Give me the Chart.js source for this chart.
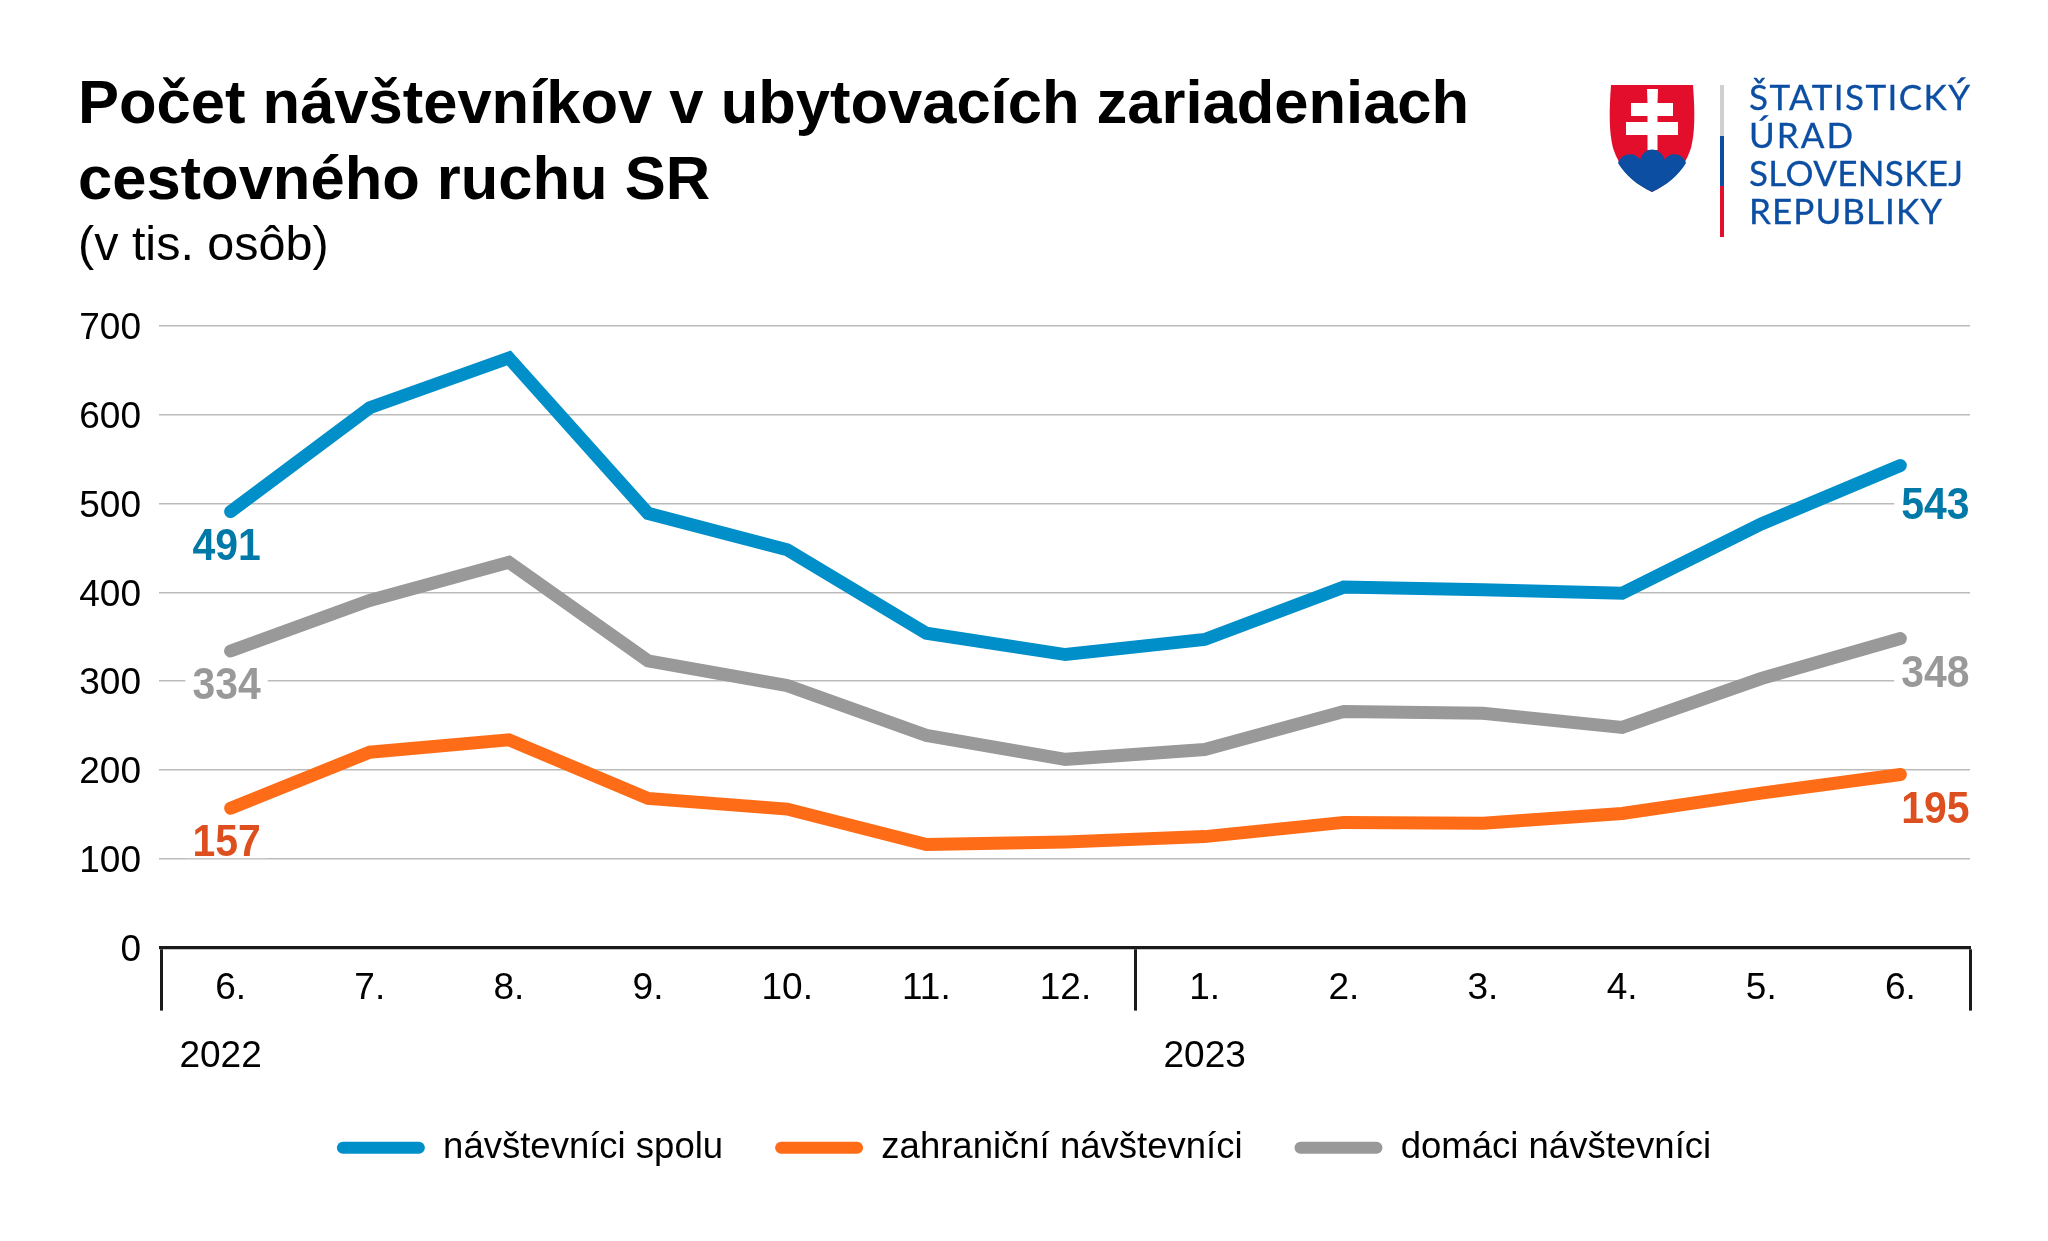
<!DOCTYPE html>
<html lang="sk">
<head>
<meta charset="utf-8">
<title>Počet návštevníkov</title>
<script src="https://cdn.jsdelivr.net/npm/chart.js@4"></script>
<style>
    html, body { margin: 0; background: #fff; }
    #wrap { position: relative; width: 2048px; height: 1241px; overflow: hidden; }
    #logo { position: absolute; left: 0; top: 0; }
    #logo text { font-family: Lato, sans-serif; font-size: 35px; fill: #0b4ea2; stroke: #0b4ea2; stroke-width: 0.3px; }
</style>
</head>
<body>
<div id="wrap">
    <canvas id="chart" width="2048" height="1241"></canvas>
    <!-- Logo of the statistical office -->
    <svg id="logo" width="2048" height="300" viewBox="0 0 2048 300">
        <path d="M1611 85H1693C1695 112 1695 132 1691 148C1684 170 1670 183 1652 192C1634 183 1620 170 1613 148C1609 132 1609 112 1611 85Z" fill="#e30d2c"/>
        <path d="M1647 89H1658L1657.500 103H1673V116H1657.500V122H1678V135H1657.500V150H1647.500V135H1626V122H1647.500V116H1631V103H1647.500Z" fill="#fff"/>
        <path d="M1618 163C1622 152 1636 152 1640 160C1644 146 1660 146 1665 160C1669 152 1682 152 1686 163C1678 176 1667 185 1652 192C1637 185 1626 176 1618 163Z" fill="#0b4ea2"/>
        <rect x="1720" y="85" width="4" height="51" fill="#ced0d1"/>
        <rect x="1720" y="136" width="4" height="50" fill="#0b4ea2"/>
        <rect x="1720" y="186" width="4" height="51" fill="#e30d2c"/>
        <text x="1749" y="110" textLength="221">ŠTATISTICKÝ</text>
        <text x="1749" y="148" textLength="104">ÚRAD</text>
        <text x="1749" y="186" textLength="214">SLOVENSKEJ</text>
        <text x="1749" y="224" textLength="193">REPUBLIKY</text>
    </svg>
</div>
<script>
// Chart data
const months = ['6.', '7.', '8.', '9.', '10.', '11.', '12.', '1.', '2.', '3.', '4.', '5.', '6.'];
const years = ['2022', '2023'];
const yearStartIndex = [0, 7];
const totalVisitors = [491, 608, 664, 489, 448, 354, 330, 347, 406, 403, 399, 477, 543];
const foreignVisitors = [157, 220, 234, 168, 156, 116, 119, 125, 141, 140, 151, 174, 195];
const domesticVisitors = [334, 391, 434, 323, 295, 239, 212, 223, 266, 264, 248, 303, 348];
const yTicks = [0, 100, 200, 300, 400, 500, 600, 700];

const FONT = '"Liberation Sans", Arial, sans-serif';

// Values at both ends of each line, white box behind so gridlines stop at the text
const endLabelsPlugin = {
    id: 'endLabels',
    afterDatasetsDraw(chart) {
        const ctx = chart.ctx;
        ctx.save();
        ctx.font = `bold 44px ${FONT}`;
        ctx.textAlign = 'center';
        ctx.textBaseline = 'middle';
        chart.data.datasets.forEach((ds, i) => {
            const pts = chart.getDatasetMeta(i).data;
            const last = pts.length - 1;
            [[0, -4], [last, 35]].forEach(([idx, dx]) => {
                const x = pts[idx].x + dx;
                const y = pts[idx].y + 35 + (ds.labelDrop || 0) * (idx === last ? 1 : 0);
                const text = String(ds.data[idx]);
                const w = ctx.measureText(text).width * 0.93;
                ctx.fillStyle = '#fff';
                ctx.fillRect(x - w / 2 - 7, y - 15, w + 14, 30);
                // the digits in the original are a bit narrow
                ctx.save();
                ctx.translate(x, y + 1);
                ctx.scale(0.93, 1);
                ctx.fillStyle = ds.labelColor;
                ctx.fillText(text, 0, 0);
                ctx.restore();
            });
        });
        ctx.restore();
    }
};

// Second row of the x axis: the year under its first month
const yearLabelsPlugin = {
    id: 'yearLabels',
    afterDraw(chart) {
        const ctx = chart.ctx;
        const xScale = chart.scales.x;
        ctx.save();
        ctx.font = `37px ${FONT}`;
        ctx.fillStyle = '#000';
        ctx.textAlign = 'center';
        ctx.textBaseline = 'middle';
        years.forEach((year, i) => {
            const nudge = i === 0 ? -10 : 0;
            ctx.fillText(year, xScale.getPixelForTick(yearStartIndex[i]) + nudge, 1057);
        });
        ctx.restore();
    }
};

function lineDataset(label, data, color, labelColor, labelDrop) {
    return {
        label, data, labelColor, labelDrop,
        borderColor: color,
        backgroundColor: color,
        borderWidth: 13,
        borderCapStyle: 'round',
        borderJoinStyle: 'miter',
        tension: 0,
        pointRadius: 0
    };
}

new Chart(document.getElementById('chart'), {
    type: 'line',
    data: {
        labels: months,
        datasets: [
            lineDataset('návštevníci spolu', totalVisitors, '#008fc8', '#0079a8', 5),
            lineDataset('zahraniční návštevníci', foreignVisitors, '#ff6c17', '#dd4f1e', 0),
            lineDataset('domáci návštevníci', domesticVisitors, '#999999', '#999999', 0)
        ]
    },
    plugins: [endLabelsPlugin, yearLabelsPlugin],
    options: {
        responsive: false,
        animation: false,
        events: [],
        layout: { padding: { top: 68, left: 78, right: 78, bottom: 65 } },
        plugins: {
            tooltip: { enabled: false },
            title: {
                display: true,
                align: 'start',
                text: ['Počet návštevníkov v ubytovacích zariadeniach', 'cestovného ruchu SR'],
                color: '#000',
                font: { family: FONT, size: 61.5, weight: 'bold', lineHeight: 76 / 61.5 },
                padding: 0
            },
            subtitle: {
                display: true,
                align: 'start',
                text: '(v tis. osôb)',
                color: '#000',
                font: { family: FONT, size: 48.5, weight: 'normal', lineHeight: 1.1 },
                padding: { top: 0, bottom: 52.65 }
            },
            legend: {
                position: 'bottom',
                labels: {
                    boxWidth: 88,
                    boxHeight: 12,
                    useBorderRadius: true,
                    borderRadius: 6,
                    padding: 52,
                    color: '#000',
                    font: { family: FONT, size: 36.5 },
                    generateLabels(chart) {
                        return Chart.defaults.plugins.legend.labels.generateLabels(chart).map(item => ({ ...item, lineWidth: 0 }));
                    }
                }
            }
        },
        scales: {
            x: {
                offset: true,
                afterFit(scale) { scale.height = 129.9; },
                border: { display: true, color: '#1a1a1a', width: 3.3 },
                grid: {
                    offset: true,
                    drawOnChartArea: false,
                    tickLength: 63,
                    tickWidth: 3,
                    // separators only at the axis ends and between the two years
                    tickColor: c => (c.index === undefined || yearStartIndex.includes(c.index)) ? '#1a1a1a' : 'transparent'
                },
                ticks: {
                    autoSkip: false,
                    maxRotation: 0,
                    padding: -44,
                    color: '#000',
                    font: { family: FONT, size: 37 }
                }
            },
            y: {
                min: 0,
                max: 700,
                afterFit(scale) { scale.width = 83; },
                afterBuildTicks(scale) { scale.ticks = yTicks.map(value => ({ value })); },
                border: { display: false },
                grid: {
                    color: c => c.tick && c.tick.value === 0 ? 'transparent' : '#bbbbbb',
                    tickColor: c => c.tick && c.tick.value === 0 ? 'transparent' : '#bbbbbb',
                    lineWidth: 1.5,
                    tickLength: 2
                },
                ticks: {
                    padding: 18,
                    labelOffset: 3,
                    color: '#000',
                    font: { family: FONT, size: 37 }
                }
            }
        }
    }
});
</script>
</body>
</html>
